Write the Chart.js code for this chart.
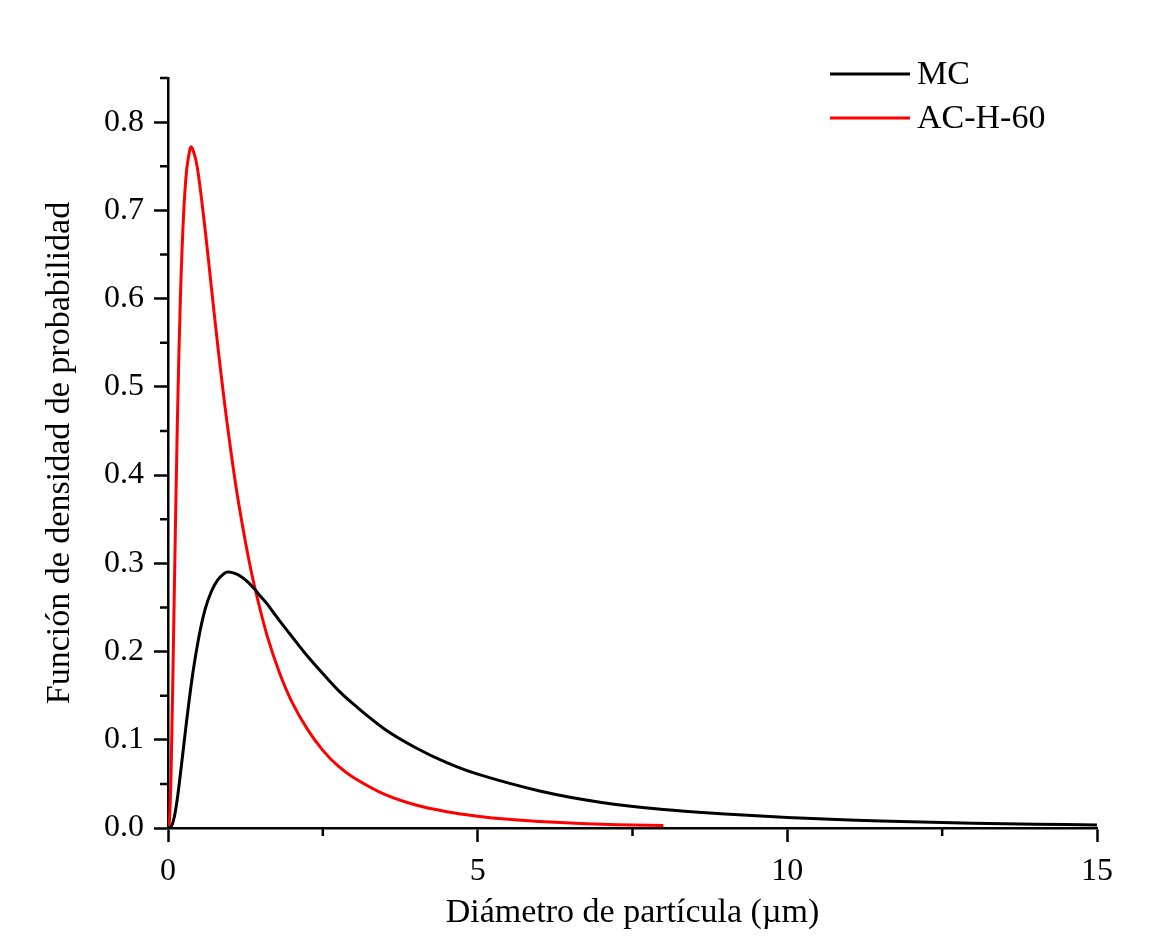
<!DOCTYPE html>
<html lang="es">
<head>
  <meta charset="UTF-8">
  <title>Función de densidad de probabilidad</title>
  <script src="https://cdn.jsdelivr.net/npm/chart.js"></script>
  <style>
    html, body { margin: 0; padding: 0; background: #fff; }
    #wrap { width: 1169px; height: 941px; }
  </style>
</head>
<body>
  <div id="wrap"><canvas id="pdfChart" width="1169" height="941"></canvas></div>

  <script>
    // diámetro (µm) y densidad
    const mcX = [0, 0.05, 0.1, 0.15, 0.2, 0.25, 0.3, 0.4, 0.5, 0.6, 0.7, 0.8, 0.9, 0.95, 1.0, 1.1, 1.2, 1.3, 1.4, 1.5, 1.6, 1.7, 1.8, 2.0, 2.25, 2.5, 2.75, 3, 3.5, 4, 4.5, 5, 6, 7, 8, 9, 10, 11, 12, 13, 14, 15];
    const mcY = [0, 0.0013, 0.012, 0.033, 0.061, 0.091, 0.121, 0.175, 0.217, 0.248, 0.268, 0.281, 0.288, 0.290, 0.290, 0.288, 0.284, 0.278, 0.2705, 0.262, 0.254, 0.2445, 0.235, 0.217, 0.195, 0.175, 0.156, 0.140, 0.112, 0.091, 0.074, 0.061, 0.042, 0.029, 0.021, 0.016, 0.012, 0.009, 0.007, 0.0055, 0.0043, 0.0035];

    const acX = [0, 0.02, 0.05, 0.1, 0.15, 0.2, 0.25, 0.3, 0.35, 0.37, 0.4, 0.45, 0.5, 0.6, 0.7, 0.8, 0.9, 1.0, 1.1, 1.2, 1.3, 1.4, 1.6, 1.8, 2.0, 2.25, 2.5, 2.75, 3, 3.5, 4, 4.5, 5, 5.5, 6, 6.5, 7, 7.5, 8];
    const acY = [0, 0.004, 0.063, 0.260, 0.455, 0.600, 0.693, 0.745, 0.768, 0.772, 0.769, 0.757, 0.736, 0.678, 0.613, 0.549, 0.489, 0.435, 0.386, 0.344, 0.306, 0.273, 0.218, 0.176, 0.143, 0.112, 0.088, 0.070, 0.057, 0.038, 0.026, 0.0185, 0.0134, 0.0098, 0.0074, 0.0056, 0.0043, 0.0034, 0.0027];

    const seriesNames = ['MC', 'AC-H-60'];
    const xTicks = [0, 5, 10, 15];
    const xMinor = [2.5, 7.5, 12.5];
    const yTicks = [0, 0.1, 0.2, 0.3, 0.4, 0.5, 0.6, 0.7, 0.8];
    const yMinor = [0.05, 0.15, 0.25, 0.35, 0.45, 0.55, 0.65, 0.75, 0.85];

    const FONT = "'Liberation Serif', 'Times New Roman', serif";

    const toPts = (xs, ys) => xs.map((x, i) => ({ x: x, y: ys[i] }));

    // minor ticks + legend inside the plot
    const extras = {
      id: 'extras',
      afterDraw(chart) {
        const ctx = chart.ctx;
        const xs = chart.scales.x, ys = chart.scales.y;
        ctx.save();
        ctx.strokeStyle = '#000';
        ctx.lineWidth = 2.5;
        ctx.beginPath();
        xMinor.forEach(v => {
          const px = xs.getPixelForValue(v);
          ctx.moveTo(px, xs.top);
          ctx.lineTo(px, xs.top + 8);
        });
        yMinor.forEach(v => {
          const py = ys.getPixelForValue(v);
          ctx.moveTo(ys.right, py);
          ctx.lineTo(ys.right - 8, py);
        });
        ctx.stroke();

        ctx.font = '34px ' + FONT;
        ctx.textBaseline = 'middle';
        ctx.fillStyle = '#000';
        chart.data.datasets.forEach((ds, i) => {
          const y = 74 + i * 44;
          ctx.strokeStyle = ds.borderColor;
          ctx.lineWidth = 3;
          ctx.beginPath();
          ctx.moveTo(830, y);
          ctx.lineTo(910, y);
          ctx.stroke();
          ctx.fillText(ds.label, 917, y + 1);
        });
        ctx.restore();
      }
    };

    const onlyMajor = list => s => {
      s.ticks = list.map(v => ({ value: v }));
    };

    new Chart(document.getElementById('pdfChart'), {
      type: 'line',
      data: {
        datasets: [
          { label: seriesNames[0], data: toPts(mcX, mcY), borderColor: '#000000', borderWidth: 3 },
          { label: seriesNames[1], data: toPts(acX, acY), borderColor: '#ff0000', borderWidth: 3 }
        ]
      },
      options: {
        responsive: false,
        animation: false,
        layout: { padding: { top: 78, right: 72, left: 0, bottom: 0 } },
        elements: {
          point: { radius: 0 },
          line: { tension: 0.35, fill: false, capBezierPoints: true }
        },
        plugins: { legend: { display: false }, tooltip: { enabled: false } },
        scales: {
          x: {
            type: 'linear', min: 0, max: 15,
            afterBuildTicks: onlyMajor(xTicks),
            afterFit(s) { s.height = 113; },
            grid: { drawOnChartArea: false, drawTicks: true, tickLength: 14, tickWidth: 2.5, tickColor: '#000' },
            border: { display: true, color: '#000', width: 2.5 },
            ticks: { color: '#000', font: { family: FONT, size: 32 }, padding: 10, maxRotation: 0,
                     callback: v => String(v) },
            title: { display: true, text: 'Diámetro de partícula (µm)', color: '#000',
                     font: { family: FONT, size: 34 }, padding: { top: 0, bottom: 8 } }
          },
          y: {
            type: 'linear', min: 0, max: 0.85,
            afterBuildTicks: onlyMajor(yTicks),
            afterFit(s) { s.width = 168; },
            grid: { drawOnChartArea: false, drawTicks: true, tickLength: 14, tickWidth: 2.5, tickColor: '#000' },
            border: { display: true, color: '#000', width: 2.5 },
            ticks: { color: '#000', font: { family: FONT, size: 32 }, padding: 10,
                     callback: v => Number(v).toFixed(1) },
            title: { display: true, text: 'Función de densidad de probabilidad', color: '#000',
                     font: { family: FONT, size: 34 }, padding: { top: 40, bottom: 0 } }
          }
        }
      },
      plugins: [extras]
    });
  </script>
</body>
</html>
